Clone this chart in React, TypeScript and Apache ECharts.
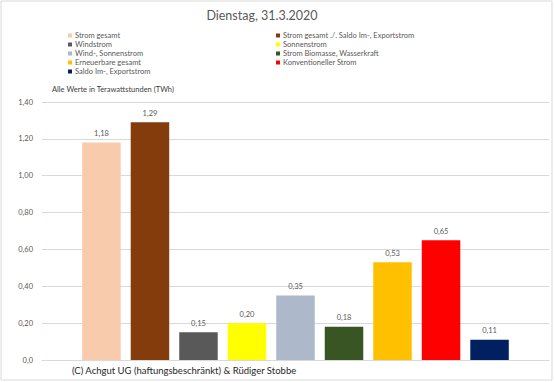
import React, { useEffect, useRef } from "react";
import * as echarts from "echarts";

const seriesNames = [
  "Strom gesamt",
  "Strom gesamt ./. Saldo Im-, Exportstrom",
  "Windstrom",
  "Sonnenstrom",
  "Wind-, Sonnenstrom",
  "Strom Biomasse, Wasserkraft",
  "Erneuerbare gesamt",
  "Konventioneller Strom",
  "Saldo Im-, Exportstrom",
];
const values = [1.18, 1.29, 0.15, 0.2, 0.35, 0.18, 0.53, 0.65, 0.11];
const colors = [
  "#F8CBAD",
  "#843C0C",
  "#595959",
  "#FFFF00",
  "#ADB9CA",
  "#375623",
  "#FFC000",
  "#FF0000",
  "#002060",
];
const titleText = "Dienstag, 31.3.2020";
const unitText = "Alle Werte in Terawattstunden (TWh)";
const footerText = "(C) Achgut UG (haftungsbeschränkt) & Rüdiger Stobbe";

const FONT = "Lato, 'Open Sans', 'Liberation Sans', sans-serif";

export default function App() {
  const ref = useRef<HTMLDivElement>(null);
  useEffect(() => {
    document.body.style.margin = "0";
    const chart = echarts.init(ref.current!, null, { renderer: "svg" });
    const legendText = { fontSize: 7.5, color: "#595959", fontFamily: FONT, lineHeight: 9 };
    chart.setOption({
      animation: false,
      backgroundColor: "#ffffff",
      textStyle: { fontFamily: FONT },
      grid: { left: 42, right: 5, top: 102, bottom: 22, containLabel: false },
      legend: [
        {
          data: seriesNames.filter((_, i) => i % 2 === 0),
          orient: "vertical",
          left: 68,
          top: 31,
          itemWidth: 4,
          itemHeight: 4,
          itemGap: 0,
          padding: 0,
          icon: "rect",
          textStyle: { ...legendText, padding: [0, 0, 0, -2] },
        },
        {
          data: seriesNames.filter((_, i) => i % 2 === 1),
          orient: "vertical",
          left: 276,
          top: 31,
          itemWidth: 4,
          itemHeight: 4,
          itemGap: 0,
          padding: 0,
          icon: "rect",
          textStyle: { ...legendText, padding: [0, 0, 0, -2] },
        },
      ],
      xAxis: {
        type: "category",
        data: [""],
        axisTick: { show: false },
        axisLabel: { show: false },
        axisLine: { lineStyle: { color: "#d9d9d9" } },
      },
      yAxis: {
        type: "value",
        min: 0,
        max: 1.4,
        interval: 0.2,
        axisLine: { show: false },
        axisTick: { show: false },
        splitLine: { lineStyle: { color: "#d9d9d9" } },
        axisLabel: {
          fontSize: 7.5,
          color: "#595959",
          margin: 9,
          fontFamily: FONT,
          formatter: (v: number) => (v === 0 ? "0,0" : v.toFixed(2).replace(".", ",")),
        },
      },
      series: seriesNames.map((name, i) => ({
        name,
        type: "bar",
        data: [values[i]],
        barWidth: 38.5,
        barGap: "26%",
        itemStyle: { color: colors[i] },
        label: {
          show: true,
          position: "top",
          distance: 5,
          fontSize: 7.5,
          color: "#595959",
          fontFamily: FONT,
          formatter: (p: any) => p.value.toFixed(2).replace(".", ","),
        },
      })),
      graphic: [
        {
          type: "rect",
          shape: { x: 1, y: 1, width: 551, height: 379 },
          style: { fill: "none", stroke: "#d9d9d9", lineWidth: 1 },
          silent: true,
        },
        {
          type: "text",
          x: 262,
          y: 15,
          style: {
            text: titleText,
            fontSize: 12.5,
            fill: "#595959",
            fontFamily: FONT,
            textAlign: "center",
            textVerticalAlign: "middle",
          },
        },
        {
          type: "text",
          x: 52,
          y: 89,
          style: {
            text: unitText,
            fontSize: 7.5,
            fill: "#404040",
            fontFamily: FONT,
            textAlign: "left",
            textVerticalAlign: "middle",
          },
        },
        {
          type: "text",
          x: 72,
          y: 370,
          style: {
            text: footerText,
            fontSize: 9.5,
            fill: "#262626",
            fontFamily: FONT,
            textAlign: "left",
            textVerticalAlign: "middle",
          },
        },
      ],
    });
    return () => chart.dispose();
  }, []);
  return <div ref={ref} style={{ width: 554, height: 382 }} />;
}
